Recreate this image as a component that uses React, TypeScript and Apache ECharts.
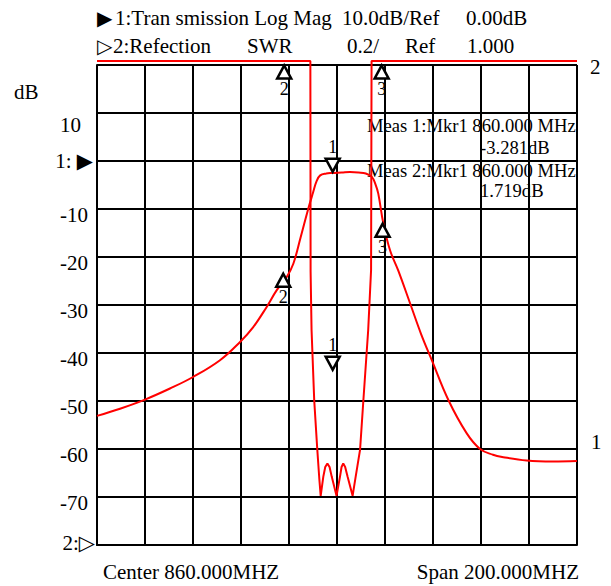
import React, { useEffect, useRef } from 'react';
import * as echarts from 'echarts';

// Frequency axis (MHz): center 860, span 200
const freqMin = 760;
const freqMax = 960;
const freqStep = 20;

// Trace 1: Transmission, log mag (dB)
const transFreq = [760, 769.6, 780, 790.4, 800, 811.25, 819.6, 825.1, 830.7, 834.9, 839, 841.8, 844.8, 848, 850, 851.5, 853, 855.5, 858, 862, 865.4, 869, 872, 874.5, 876, 877.2, 879.3, 882.1, 885.5, 890.7, 895, 899.5, 906.4, 914, 919.6, 925, 929.3, 939, 950, 960];
const transDb = [-53.1, -51.6, -49.7, -47.4, -45.0, -41.5, -37.7, -34.6, -30.4, -26.9, -24.2, -21.4, -16.0, -10.0, -6.6, -4.2, -3.0, -2.6, -2.5, -2.4, -2.3, -2.4, -2.6, -3.3, -4.8, -6.8, -13.0, -18.6, -22.8, -30.0, -36.0, -41.5, -49.8, -56.7, -60.0, -61.2, -61.7, -62.4, -62.6, -62.5];

// Trace 2: Reflection, SWR (values above 3.0 are off-scale and pinned)
const reflFreq = [760, 848.9, 849.0, 849.4, 850.5, 851.8, 852.6, 853.2, 854.3, 855.1, 856.0, 856.9, 857.8, 859.8, 861.25, 861.9, 862.6, 863.4, 864.4, 866.5, 867.7, 869.6, 871.0, 873.0, 874.2, 874.4, 960];
const reflSwr = [3.017, 3.017, 2.14, 1.896, 1.604, 1.396, 1.28, 1.205, 1.285, 1.325, 1.34, 1.325, 1.285, 1.205, 1.285, 1.325, 1.34, 1.325, 1.285, 1.205, 1.28, 1.396, 1.604, 1.896, 2.146, 3.017, 3.017];

// Markers (position, value in dB scale, label, pointing down?)
const markerFreq = [858.2, 837.6, 879.0, 838.0, 878.6, 858.2];
const markerVal = [-0.9, -24.85, -14.44, 18.54, 18.54, -42.15];
const markerName = ['1', '2', '3', '2', '3', '1'];
const markerDown = [true, false, false, false, false, true];

// Y tick labels
const yTickValues = [20, 10, 0, -10, -20, -30, -40, -50, -60, -70, -80];
const yTickLabels = ['', '10', '1: ▶', '-10', '-20', '-30', '-40', '-50', '-60', '-70', '2:▷'];

const SERIF = '"Liberation Serif", "Times New Roman", "DejaVu Serif", serif';
const RED = '#ff0000';

function txt(text: string, x: number, y: number, size = 21, align = 'left') {
  return {
    type: 'text',
    x,
    y,
    silent: true,
    style: {
      text,
      fontSize: size,
      fontFamily: SERIF,
      fill: '#000',
      align,
      verticalAlign: 'middle',
    },
  };
}

function glyph(text: string, x: number, y: number) {
  return {
    type: 'text',
    x,
    y,
    silent: true,
    style: {
      text,
      fontSize: 20,
      fontFamily: '"DejaVu Sans", sans-serif',
      fill: '#000',
      verticalAlign: 'middle',
    },
  };
}

export default function App() {
  const ref = useRef<HTMLDivElement>(null);

  useEffect(() => {
    if (!ref.current) return;
    const chart = echarts.init(ref.current, undefined, { renderer: 'svg' });

    const transData = transFreq.map((f, i) => [f, transDb[i]]);
    const reflData = reflFreq.map((f, i) => [f, reflSwr[i]]);
    const markerData = markerFreq.map((f, i) => ({
      value: [f, markerVal[i]],
      name: markerName[i],
      symbolRotate: markerDown[i] ? 180 : 0,
      label: {
        position: markerDown[i] ? 'top' : 'bottom',
        distance: markerDown[i] ? 2 : 0,
      },
    }));

    const option: any = {
      animation: false,
      backgroundColor: '#fff',
      grid: { left: 97, top: 65, width: 480, height: 480, containLabel: false },
      xAxis: {
        type: 'value',
        min: freqMin,
        max: freqMax,
        interval: freqStep,
        axisLine: { show: true, onZero: false, lineStyle: { color: '#000', width: 2 } },
        axisTick: { show: false },
        axisLabel: { show: false },
        splitLine: { show: true, lineStyle: { color: '#000', width: 2 } },
      },
      yAxis: [
        {
          type: 'value',
          min: -80,
          max: 20,
          interval: 10,
          axisLine: { show: true, onZero: false, lineStyle: { color: '#000', width: 2 } },
          axisTick: { show: false },
          splitLine: { show: true, lineStyle: { color: '#000', width: 2 } },
          axisLabel: {
            show: true,
            margin: 2,
            showMinLabel: true,
            showMaxLabel: true,
            formatter: (v: number) => {
              const idx = yTickValues.indexOf(Math.round(v));
              const lab = idx >= 0 ? yTickLabels[idx] : '';
              if (!lab) return '';
              if (Math.round(v) === 10) return '{t|' + lab + '}';
              if (Math.round(v) === 0) return '{a|' + lab + '}';
              if (Math.round(v) === -80) return '{b|' + lab + '}';
              return '{n|' + lab + '}';
            },
            rich: {
              n: { fontSize: 21, fontFamily: SERIF, color: '#000', padding: [12, 7, 0, 0] },
              t: { fontSize: 21, fontFamily: SERIF, color: '#000', padding: [24, 14, 0, 0] },
              a: { fontSize: 21, fontFamily: SERIF, color: '#000', padding: [0, 2, 0, 0] },
              b: { fontSize: 21, fontFamily: SERIF, color: '#000', padding: [0, 0, 4, 0] },
            },
          },
        },
        {
          type: 'value',
          min: 1,
          max: 3,
          interval: 0.2,
          show: false,
          splitLine: { show: false },
        },
      ],
      series: [
        {
          name: 'Transmission',
          type: 'line',
          xAxisIndex: 0,
          yAxisIndex: 0,
          data: transData,
          symbol: 'none',
          smooth: 0.4,
          lineStyle: { color: RED, width: 2 },
          z: 3,
        },
        {
          name: 'Reflection',
          type: 'line',
          xAxisIndex: 0,
          yAxisIndex: 1,
          data: reflData,
          symbol: 'none',
          smooth: false,
          clip: false,
          lineStyle: { color: RED, width: 2 },
          z: 3,
        },
        {
          name: 'Markers',
          type: 'scatter',
          xAxisIndex: 0,
          yAxisIndex: 0,
          data: markerData,
          symbol: 'triangle',
          symbolSize: [14, 13],
          clip: false,
          itemStyle: { color: '#ffffff', opacity: 1, borderColor: '#000000', borderWidth: 2.5 },
          emphasis: { disabled: true },
          label: {
            show: true,
            formatter: (p: any) => p.name,
            fontSize: 18,
            fontFamily: SERIF,
            color: '#000',
          },
          z: 5,
        },
      ],
      graphic: [
        glyph('▶', 97, 18),
        txt('1:Tran smission Log Mag', 115, 18),
        txt('10.0dB/Ref', 342, 18),
        txt('0.00dB', 466, 18),
        glyph('▷', 97, 46),
        txt('2:Refection', 113, 46),
        txt('SWR', 247, 46),
        txt('0.2/', 347, 46),
        txt('Ref', 405, 46),
        txt('1.000', 467, 46),
        txt('dB', 14, 92),
        txt('2', 590, 67),
        txt('1', 591, 442),
        txt('Meas 1:Mkr1 860.000 MHz', 367, 125, 18.6),
        txt('-3.281dB', 480, 147, 18.6),
        txt('Meas 2:Mkr1 860.000 MHz', 367, 170, 18.6),
        txt('1.719dB', 480, 190, 18.6),
        txt('Center 860.000MHZ', 103, 572),
        txt('Span 200.000MHZ', 579, 572, 21, 'right'),
      ],
    };

    chart.setOption(option);
    return () => chart.dispose();
  }, []);

  return (
    <div
      ref={ref}
      style={{ position: 'absolute', left: 0, top: 0, width: 611, height: 586 }}
    />
  );
}
